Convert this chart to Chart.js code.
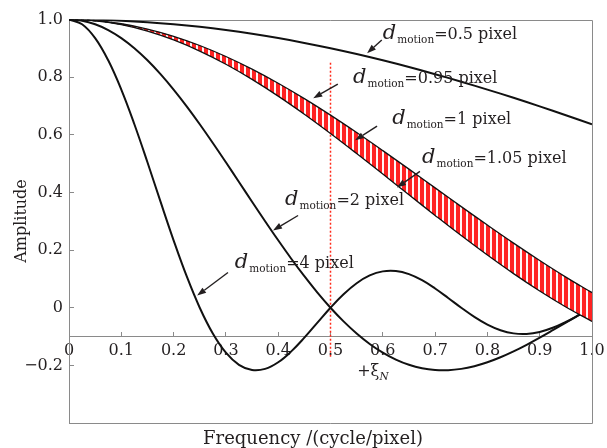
<!DOCTYPE html>
<html><head><meta charset="utf-8">
<script src="https://cdn.jsdelivr.net/npm/chart.js@4.4.1/dist/chart.umd.min.js"></script>
<style>html,body{margin:0;padding:0;background:#fff}#wrap{width:607px;height:448px}</style>
</head><body><div id="wrap"><canvas id="c" width="607" height="448"></canvas></div>
<script>
// ---- data ----
const freq = [0,0.05,0.1,0.15,0.2,0.25,0.3,0.35,0.4,0.45,0.5,0.55,0.6,0.65,0.7,0.75,0.8,0.85,0.9,0.95,1.0];
const amp05  = [1,0.9990,0.9959,0.9908,0.9836,0.9745,0.9634,0.9504,0.9355,0.9188,0.9003,0.8802,0.8584,0.8351,0.8103,0.7842,0.7568,0.7283,0.6987,0.6680,0.6366];
const amp095 = [1,0.9963,0.9852,0.9669,0.9417,0.9098,0.8717,0.8278,0.7788,0.7254,0.6681,0.6077,0.5450,0.4808,0.4158,0.3508,0.2867,0.2241,0.1638,0.1063,0.0524];
const amp1   = [1,0.9959,0.9836,0.9634,0.9355,0.9003,0.8584,0.8103,0.7568,0.6987,0.6366,0.5716,0.5046,0.4363,0.3679,0.3001,0.2339,0.1700,0.1093,0.0524,0];
const amp105 = [1,0.9955,0.9820,0.9597,0.9290,0.8904,0.8446,0.7922,0.7341,0.6712,0.6044,0.5349,0.4637,0.3918,0.3203,0.2502,0.1826,0.1182,0.0579,0.0025,-0.0474];
const freqFine = [0,0.025,0.05,0.075,0.1,0.125,0.15,0.175,0.2,0.225,0.25,0.275,0.3,0.325,0.35,0.375,0.4,0.425,0.45,0.475,0.5,0.525,0.55,0.575,0.6,0.625,0.65,0.675,0.7,0.725,0.75,0.775,0.8,0.825,0.85,0.875,0.9,0.925,0.95,0.975,1.0];
const amp2 = [1,0.9959,0.9836,0.9634,0.9355,0.9003,0.8584,0.8103,0.7568,0.6987,0.6366,0.5716,0.5046,0.4363,0.3679,0.3001,0.2339,0.1700,0.1093,0.0524,0,-0.0474,-0.0894,-0.1257,-0.1559,-0.1801,-0.1981,-0.2101,-0.2162,-0.2168,-0.2122,-0.2028,-0.1892,-0.1719,-0.1515,-0.1286,-0.1039,-0.0781,-0.0518,-0.0255,0];
const amp4 = [1,0.9836,0.9355,0.8584,0.7568,0.6366,0.5046,0.3679,0.2339,0.1093,0,-0.0894,-0.1559,-0.1981,-0.2162,-0.2122,-0.1892,-0.1515,-0.1039,-0.0518,0,0.0468,0.0850,0.1120,0.1261,0.1273,0.1164,0.0954,0.0668,0.0339,0,-0.0317,-0.0585,-0.0780,-0.0890,-0.0909,-0.0841,-0.0696,-0.0492,-0.0252,0];
const nyquistX = [0.5,0.5];
const nyquistY = [0.85,-0.175];
const xTickLabels = ['0','0.1','0.2','0.3','0.4','0.5','0.6','0.7','0.8','0.9','1.0'];
const yTickLabels = [null,'\u22120.2','0','0.2','0.4','0.6','0.8','1.0'];
const curveLabels = ['=0.5 pixel','=0.95 pixel','=1 pixel','=1.05 pixel','=2 pixel','=4 pixel'];
const xTitle = 'Frequency /(cycle/pixel)';
const yTitle = 'Amplitude';

// ---- annotation placement (data coordinates) ----
const labelPos = [[0.600,0.932],[0.543,0.779],[0.618,0.637],[0.675,0.501],[0.413,0.355],[0.317,0.139]];
const arrowPos = [
  [[0.598,0.929],[0.570,0.883]],
  [[0.514,0.776],[0.467,0.727]],
  [[0.589,0.630],[0.547,0.581]],
  [[0.671,0.473],[0.627,0.417]],
  [[0.438,0.320],[0.390,0.268]],
  [[0.304,0.122],[0.245,0.042]]
];
const xiPos = [0.551,-0.237];

const zip = (xs, ys) => xs.map((x,i)=>({x, y: ys[i]}));
const SERIF = '"DejaVu Serif", serif';
const TXT = '#231f20';
const FRAME = '#8a8a8a';

// hatch pattern for the band
const pc = document.createElement('canvas'); pc.width = 6; pc.height = 4;
const pg = pc.getContext('2d');
pg.fillStyle = '#ff2222'; pg.fillRect(0,0,6,4);
pg.fillStyle = '#fff4f4'; pg.fillRect(4,0,2,4);
const hatch = pg.createPattern(pc,'repeat');

function arrow(ctx, x1, y1, x2, y2) {
  const a = Math.atan2(y2-y1, x2-x1), L = 9, W = 3.2;
  const bx = x2 - L*Math.cos(a), by = y2 - L*Math.sin(a);
  ctx.beginPath(); ctx.moveTo(x1,y1); ctx.lineTo(bx,by);
  ctx.lineWidth = 1.4; ctx.strokeStyle = TXT; ctx.stroke();
  ctx.beginPath(); ctx.moveTo(x2,y2);
  ctx.lineTo(bx + W*Math.sin(a), by - W*Math.cos(a));
  ctx.lineTo(bx - W*Math.sin(a), by + W*Math.cos(a));
  ctx.closePath(); ctx.fillStyle = TXT; ctx.fill();
}

const decor = {
  id: 'decor',
  beforeDatasetsDraw(chart) {
    const {ctx, chartArea: a} = chart;
    ctx.save();
    ctx.strokeStyle = FRAME; ctx.lineWidth = 1;
    ctx.beginPath();
    ctx.moveTo(a.left, Math.round(a.top)+0.5); ctx.lineTo(Math.round(a.right)+0.5, Math.round(a.top)+0.5);
    ctx.lineTo(Math.round(a.right)+0.5, Math.round(a.bottom)+0.5); ctx.lineTo(a.left, Math.round(a.bottom)+0.5);
    ctx.stroke();
    ctx.restore();
  },
  afterDraw(chart) {
    const {ctx} = chart;
    const xs = chart.scales.x, ys = chart.scales.y;
    ctx.save();
    ctx.fillStyle = TXT;
    ctx.textBaseline = 'alphabetic'; ctx.textAlign = 'left';
    curveLabels.forEach((t, i) => {
      let px = xs.getPixelForValue(labelPos[i][0]);
      const py = ys.getPixelForValue(labelPos[i][1]);
      ctx.font = 'italic 21px ' + SERIF; ctx.fillText('d', px, py);
      px += ctx.measureText('d').width + 1;
      ctx.font = '10.5px ' + SERIF; ctx.fillText('motion', px, py + 4);
      px += ctx.measureText('motion').width;
      ctx.font = '16px ' + SERIF; ctx.fillText(t, px, py);
      const [p0, p1] = arrowPos[i];
      arrow(ctx, xs.getPixelForValue(p0[0]), ys.getPixelForValue(p0[1]), xs.getPixelForValue(p1[0]), ys.getPixelForValue(p1[1]));
    });
    // +xi_N
    let qx = xs.getPixelForValue(xiPos[0]); const qy = ys.getPixelForValue(xiPos[1]);
    ctx.font = '16px ' + SERIF; ctx.fillText('+\u03BE', qx, qy);
    qx += ctx.measureText('+\u03BE').width;
    ctx.font = 'italic 10.5px ' + SERIF; ctx.fillText('N', qx, qy + 4);
    // axis titles
    ctx.font = '18px ' + SERIF; ctx.textAlign = 'center';
    ctx.fillText(xTitle, 313, 444);
    ctx.save(); ctx.translate(26, 221); ctx.rotate(-Math.PI/2);
    ctx.font = '16px ' + SERIF; ctx.fillText(yTitle, 0, 0);
    ctx.restore();
    ctx.restore();
  }
};

const noPad = s => { s.paddingLeft = 0; s.paddingRight = 0; s.paddingTop = 0; s.paddingBottom = 0; };
const lineBase = {pointRadius: 0, tension: 0.4, fill: false, borderColor: '#111'};
new Chart(document.getElementById('c'), {
  type: 'line',
  data: {
    datasets: [
      {...lineBase, label: 'd=0.95', data: zip(freq, amp095), borderWidth: 1.3},
      {...lineBase, label: 'd=1.05', data: zip(freq, amp105), borderWidth: 1.3, fill: '-1', backgroundColor: hatch},
      {...lineBase, label: 'd=1', data: zip(freq, amp1), borderWidth: 1.5, borderDash: [3,3]},
      {...lineBase, label: 'd=0.5', data: zip(freq, amp05), borderWidth: 2},
      {...lineBase, label: 'd=2', data: zip(freqFine, amp2), borderWidth: 2},
      {...lineBase, label: 'd=4', data: zip(freqFine, amp4), borderWidth: 2},
      {...lineBase, label: 'Nyquist', data: zip(nyquistX, nyquistY), tension: 0, borderColor: '#ff2a1a', borderWidth: 1.5, borderDash: [2,2]}
    ]
  },
  options: {
    responsive: false, animation: false, devicePixelRatio: 1,
    layout: {padding: {top: 19.5, right: 15, bottom: 25, left: 0}},
    plugins: {legend: {display: false}, tooltip: {enabled: false}},
    scales: {
      x: {
        type: 'linear', min: 0, max: 1, position: {y: -0.1},
        afterFit: s => { s.height = 0; noPad(s); },
        ticks: {stepSize: 0.1, maxRotation: 0, autoSkip: false, padding: 10, color: TXT,
                font: {family: SERIF, size: 16}, callback: (v, i) => xTickLabels[i]},
        grid: {drawOnChartArea: false, tickLength: -5, color: FRAME},
        border: {color: FRAME, width: 1}
      },
      y: {
        type: 'linear', min: -0.4, max: 1.0, position: 'left',
        afterFit: s => { s.width = 69; noPad(s); },
        ticks: {stepSize: 0.2, padding: 11, color: TXT, font: {family: SERIF, size: 16},
                callback: (v, i) => yTickLabels[i]},
        grid: {drawOnChartArea: false, tickLength: -5, color: FRAME},
        border: {color: FRAME, width: 1}
      }
    }
  },
  plugins: [decor]
});
</script></body></html>
